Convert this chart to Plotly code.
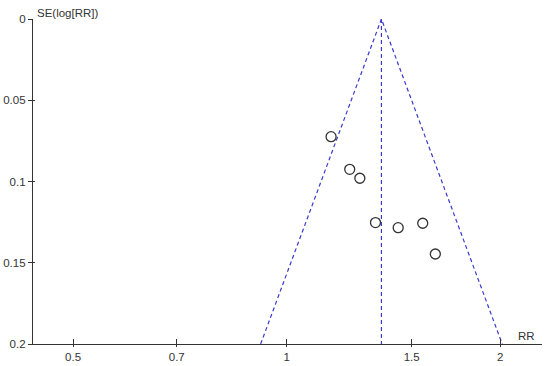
import numpy as np
import plotly.graph_objects as go

# study estimates
rr = [1.155, 1.227, 1.268, 1.334, 1.436, 1.555, 1.62]
se = [0.0724, 0.0925, 0.098, 0.1253, 0.1284, 0.1257, 0.1446]

pooled_rr = 1.36
se_max = 0.2

x_ticks = [0.5, 0.7, 1, 1.5, 2]
y_ticks = [0, 0.05, 0.1, 0.15, 0.2]
y_tick_text = ["0", "0.05", "0.1", "0.15", "0.2"]

line_col = "#3a3acc"
ink = "#333333"

# pseudo 95% confidence limits
lo = np.exp(np.log(pooled_rr) - 1.96 * se_max)
hi = np.exp(np.log(pooled_rr) + 1.96 * se_max)

fig = go.Figure()

fig.add_trace(go.Scatter(
    x=[lo, pooled_rr, hi], y=[se_max, 0, se_max],
    mode="lines", line=dict(color=line_col, width=1.2, dash="4px,3px"),
    hoverinfo="skip", showlegend=False,
))
fig.add_trace(go.Scatter(
    x=[pooled_rr, pooled_rr], y=[0, se_max],
    mode="lines", line=dict(color=line_col, width=1.2, dash="4px,3px"),
    hoverinfo="skip", showlegend=False,
))
fig.add_trace(go.Scatter(
    x=rr, y=se, mode="markers",
    marker=dict(symbol="circle-open", size=10, color=ink, line=dict(width=1.3)),
    showlegend=False,
))

font = dict(family="Liberation Sans, Arial, sans-serif", size=11.5, color=ink)
x_range = [np.log10(0.439), np.log10(2.29)]
y_range = [se_max, 0]

fig.update_layout(
    width=550, height=366,
    margin=dict(l=33, r=8, t=19, b=22, autoexpand=False),
    paper_bgcolor="white", plot_bgcolor="white",
    font=font,
    xaxis=dict(
        type="log", range=x_range,
        tickvals=x_ticks, ticktext=[str(v) for v in x_ticks],
        showgrid=False, zeroline=False, automargin=False,
        showline=True, linecolor=ink, linewidth=1.3,
        ticks="outside", ticklen=2, tickcolor=ink, tickwidth=1.2,
    ),
    yaxis=dict(
        range=y_range,
        tickvals=y_ticks, ticktext=y_tick_text,
        showgrid=False, zeroline=False, automargin=False,
        showline=True, linecolor=ink, linewidth=1.3,
        ticks="outside", ticklen=4, tickcolor=ink, tickwidth=1.2,
    ),
    # overlay axes only to draw the inner half of the crossing ticks
    xaxis2=dict(
        type="log", range=x_range, overlaying="x", side="bottom",
        anchor="y", tickvals=x_ticks, showticklabels=False,
        showgrid=False, zeroline=False, automargin=False,
        ticks="inside", ticklen=5, tickcolor=ink, tickwidth=1.2,
    ),
    yaxis2=dict(
        range=y_range, overlaying="y", side="left", anchor="x",
        tickvals=y_ticks, showticklabels=False,
        showgrid=False, zeroline=False, automargin=False,
        ticks="inside", ticklen=2, tickcolor=ink, tickwidth=1.2,
    ),
    annotations=[
        dict(text="SE(log[RR])", xref="paper", yref="paper", x=0.004, y=1.0,
             xanchor="left", yanchor="bottom", showarrow=False, font=font, yshift=-2),
        dict(text="RR", xref="paper", yref="paper", x=0.99, y=0.0,
             xanchor="right", yanchor="bottom", showarrow=False, font=font),
    ],
)

# invisible trace so the overlay axes get drawn
fig.add_trace(go.Scatter(
    x=[1], y=[0.1], xaxis="x2", yaxis="y2", mode="markers",
    marker=dict(opacity=0), hoverinfo="skip", showlegend=False,
))

# drop the page's default body margin so the figure sits at the window corner
fig.write_html("out.html", config={"displayModeBar": False},
               post_script="document.body.style.margin='0';")
